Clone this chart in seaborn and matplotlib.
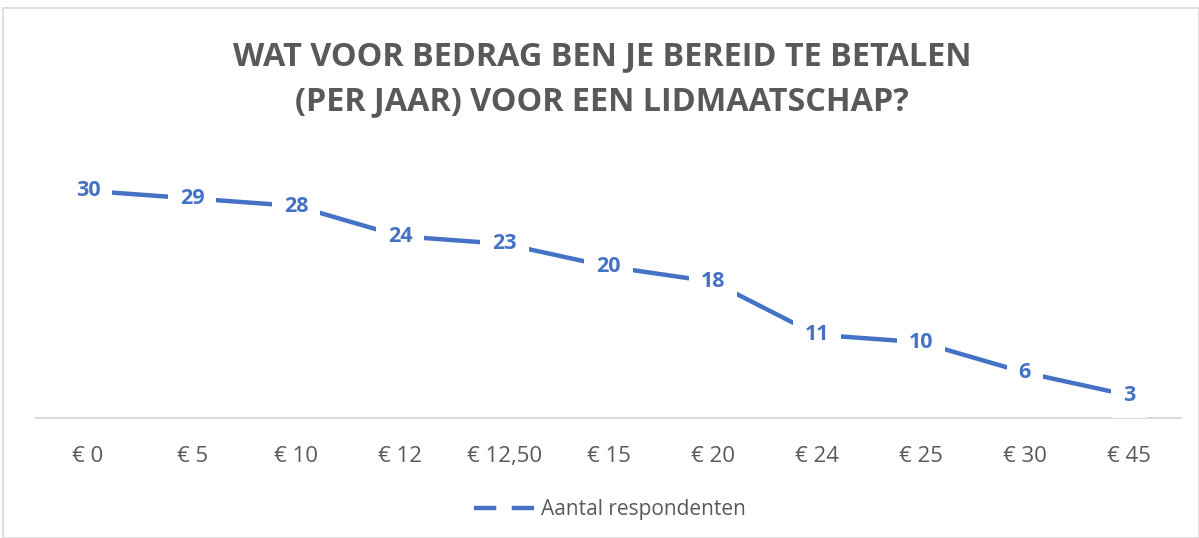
import matplotlib
matplotlib.use("Agg")
import matplotlib.pyplot as plt
import seaborn as sns
import pandas as pd
from matplotlib.patches import Rectangle
from matplotlib.lines import Line2D

categories = ["€ 0", "€ 5", "€ 10", "€ 12", "€ 12,50", "€ 15", "€ 20", "€ 24", "€ 25", "€ 30", "€ 45"]
values = [30, 29, 28, 24, 23, 20, 18, 11, 10, 6, 3]
series_name = "Aantal respondenten"
title = "WAT VOOR BEDRAG BEN JE BEREID TE BETALEN\n(PER JAAR) VOOR EEN LIDMAATSCHAP?"

sns.set_theme(style="white")
plt.rcParams["font.family"] = ["Open Sans", "DejaVu Sans"]

blue = "#4472C4"
gray = "#595959"

df = pd.DataFrame({"x": range(len(categories)), "y": values, "serie": series_name})

fig = plt.figure(figsize=(11.99, 5.38), dpi=100)
ax = fig.add_axes([36 / 1199, 120 / 538, (1181 - 36) / 1199, (418 - 153) / 538])

sns.lineplot(data=df, x="x", y="y", hue="serie", palette=[blue], ax=ax,
             linewidth=3.2, dashes=False, legend=False)
for line in ax.lines:
    line.set_solid_capstyle("butt")

for i, v in enumerate(values):
    ax.text(i, v, str(v), ha="center", va="center", color=blue, fontsize=15.5,
            fontweight="bold", zorder=5,
            bbox=dict(boxstyle="square,pad=0.55", fc="white", ec="none"))

ax.set_xlim(-0.5, len(categories) - 0.5)
ax.set_ylim(0, 35)
ax.set_xticks(range(len(categories)))
ax.set_xticklabels(categories, color=gray, fontsize=16)
ax.set_yticks([])
ax.set_xlabel("")
ax.set_ylabel("")
ax.tick_params(axis="x", length=0, pad=20)
for s in ["top", "right", "left"]:
    ax.spines[s].set_visible(False)
ax.spines["bottom"].set_color("#D9D9D9")
ax.spines["bottom"].set_linewidth(1.5)

handle = Line2D([], [], color=blue, linewidth=3.2, linestyle=(0, (5, 3.5)))
fig.legend([handle], [series_name], loc="center", bbox_to_anchor=(610 / 1199, 1 - 510 / 538),
           frameon=False, fontsize=15, labelcolor=gray, handlelength=3.2, handletextpad=0.05)

fig.text(602 / 1199, 1 - 79 / 538, title, ha="center", va="center", color=gray,
         fontsize=23.3, fontweight="bold", linespacing=1.5)

fig.patches.append(Rectangle((3 / 1199, 0), 1 - 3 / 1199, 1 - 8 / 538, transform=fig.transFigure,
                             fill=False, ec="#D9D9D9", lw=1.2))

fig.savefig("out.png", dpi=100, facecolor="white")
